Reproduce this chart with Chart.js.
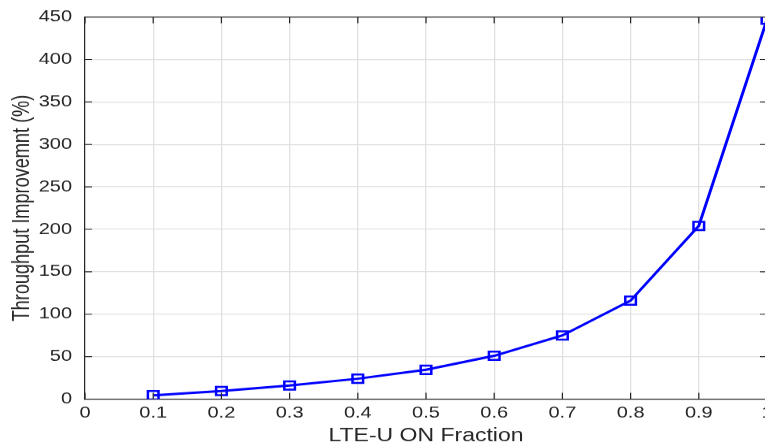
<!DOCTYPE html>
<html>
<head>
<meta charset="utf-8">
<script src="https://cdn.jsdelivr.net/npm/chart.js@4/dist/chart.umd.min.js"></script>
<style>
  html, body { margin: 0; padding: 0; background: #fff; overflow: hidden; }
  #clip { width: 765px; height: 442px; overflow: hidden; }
  /* the reference figure is squeezed vertically, so draw tall and scale down */
  #wrap { width: 777px; height: 561px; transform: scaleY(0.7879); transform-origin: 0 0; }
</style>
</head>
<body>
<div id="clip"><div id="wrap"><canvas id="myChartLine"></canvas></div></div>
<script>
const onFraction = [0.1, 0.2, 0.3, 0.4, 0.5, 0.6, 0.7, 0.8, 0.9, 1.0];
const improvement = [4.5, 9.5, 16, 24, 34.5, 51, 75, 116, 204, 447];
const xTickStep = 0.1;
const yTickStep = 50;
const fontFamily = 'Liberation Sans, Arial, Helvetica, sans-serif';

// MATLAB-style box with inward ticks
const boxPlugin = {
  id: 'box',
  afterDraw(chart) {
    const { ctx, chartArea: a, scales } = chart;
    ctx.save();
    ctx.strokeStyle = '#262626';
    ctx.lineWidth = 1.2;
    ctx.beginPath();
    ctx.moveTo(a.left, a.top);
    ctx.lineTo(a.right, a.top);
    ctx.moveTo(a.right, a.top);
    ctx.lineTo(a.right, a.bottom);
    scales.x.ticks.forEach(t => {
      const px = scales.x.getPixelForValue(t.value);
      ctx.moveTo(px, a.bottom); ctx.lineTo(px, a.bottom - 8);
      ctx.moveTo(px, a.top); ctx.lineTo(px, a.top + 8);
    });
    scales.y.ticks.forEach(t => {
      const py = scales.y.getPixelForValue(t.value);
      ctx.moveTo(a.left, py); ctx.lineTo(a.left + 7, py);
      ctx.moveTo(a.right, py); ctx.lineTo(a.right - 7, py);
    });
    ctx.stroke();
    ctx.restore();
  }
};

const myChartLine = document.getElementById('myChartLine');
if (myChartLine) {
  new Chart(myChartLine, {
    type: 'line',
    data: {
      datasets: [{
        label: 'Throughput Improvemnt',
        data: onFraction.map((x, i) => ({ x: x, y: improvement[i] })),
        borderColor: '#0000ff',
        backgroundColor: 'rgba(0,0,0,0)',
        borderWidth: 3,
        pointStyle: 'rect',
        pointRadius: 7.5,
        pointBorderWidth: 2.5,
        pointBorderColor: '#0000ff',
        pointBackgroundColor: 'rgba(0,0,0,0)',
        tension: 0
      }]
    },
    plugins: [boxPlugin],
    options: {
      responsive: true,
      maintainAspectRatio: false,
      animation: false,
      layout: { padding: { top: 21.6, right: 0, left: 0, bottom: 0 } },
      plugins: { legend: { display: false }, tooltip: { enabled: false } },
      scales: {
        x: {
          type: 'linear',
          min: 0,
          max: 1,
          afterFit(scale) { scale.paddingRight = 0; scale.height = 54.5; },
          ticks: {
            stepSize: xTickStep,
            callback: v => String(Math.round(v * 10) / 10),
            color: '#262626',
            font: { family: fontFamily, size: 20 },
            padding: 6,
            maxRotation: 0
          },
          grid: { color: '#e0e0e0', lineWidth: 1.3, drawTicks: false },
          border: { color: '#262626', width: 1.2 },
          title: {
            display: true,
            text: 'LTE-U ON Fraction',
            color: '#262626',
            font: { family: fontFamily, size: 23 },
            padding: { top: 0, bottom: -6 }
          }
        },
        y: {
          min: 0,
          max: 450,
          afterFit(scale) { scale.paddingTop = 0; scale.width = 85; },
          ticks: {
            stepSize: yTickStep,
            color: '#262626',
            font: { family: fontFamily, size: 20 },
            padding: 13
          },
          grid: { color: '#e0e0e0', lineWidth: 1.3, drawTicks: false },
          border: { color: '#262626', width: 1.2 },
          title: {
            display: true,
            text: 'Throughput Improvemnt (%)',
            color: '#262626',
            font: { family: fontFamily, size: 23 },
            padding: { top: 9, bottom: 0 }
          }
        }
      }
    }
  });
}
</script>
</body>
</html>
